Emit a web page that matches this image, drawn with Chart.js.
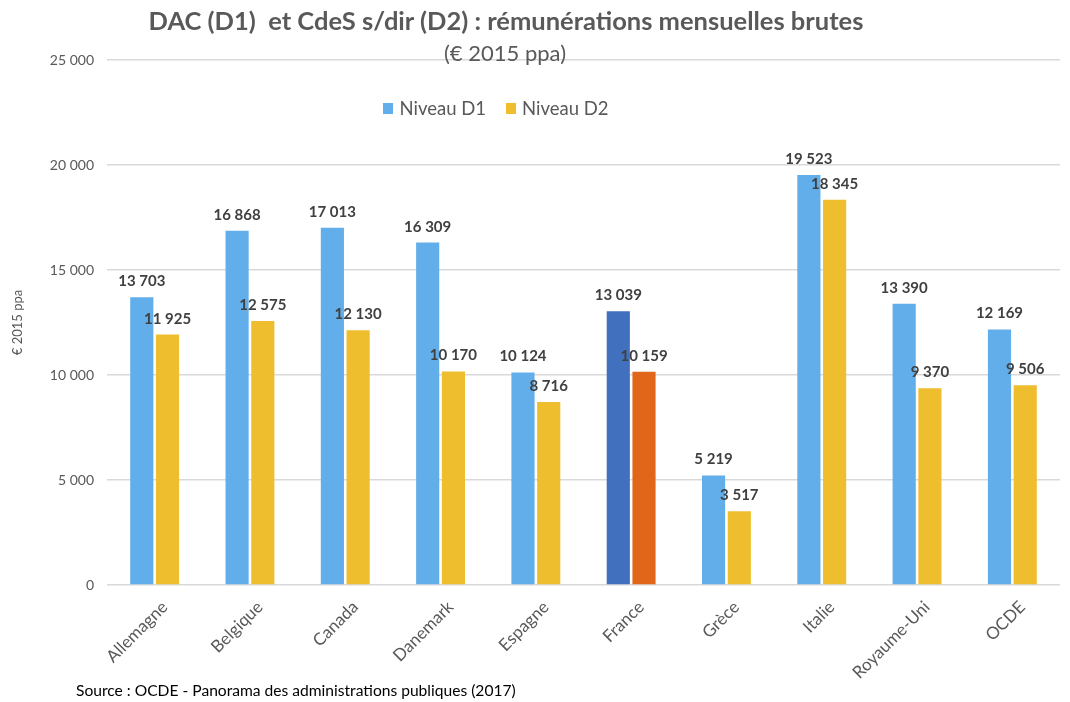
<!DOCTYPE html>
<html lang="fr">
<head>
<meta charset="UTF-8">
<title>DAC (D1) et CdeS s/dir (D2) : rémunérations mensuelles brutes</title>
<script src="https://cdn.jsdelivr.net/npm/chart.js"></script>
<style>
    body { margin: 0; background: #fff; font-family: Lato, sans-serif; }
    #wrap { position: relative; width: 1070px; height: 702px; overflow: hidden; }
    #chart { position: absolute; left: 0; top: 0; }
    .title { position: absolute; top: 5px; left: 0; width: 1012px; text-align: center;
             font-weight: bold; font-size: 25.5px; color: #595959; white-space: pre; }
    .subtitle { position: absolute; top: 39px; left: 0; width: 1010px; text-align: center;
                font-size: 22px; color: #595959; }
    .legend { position: absolute; top: 97px; left: 0; width: 992px; text-align: center;
              font-size: 18.5px; color: #595959; }
    .legend span.box { display: inline-block; width: 10px; height: 11px; margin-right: 6px; vertical-align: 1px; }
    .legend span.item { margin: 0 10px; }
    .source { position: absolute; left: 76px; top: 681px; font-size: 15.6px; color: #000; }
</style>
</head>
<body>
<div id="wrap">
    <canvas id="chart" width="1070" height="702"></canvas>
    <div class="title">DAC (D1)  et CdeS s/dir (D2) : rémunérations mensuelles brutes</div>
    <div class="subtitle">(€ 2015 ppa)</div>
    <div class="legend" id="legend"></div>
    <div class="source">Source : OCDE - Panorama des administrations publiques (2017)</div>
</div>
<script>
    // data
    const pays = ['Allemagne', 'Belgique', 'Canada', 'Danemark', 'Espagne', 'France', 'Grèce', 'Italie', 'Royaume-Uni', 'OCDE'];
    const niveauD1 = [13703, 16868, 17013, 16309, 10124, 13039, 5219, 19523, 13390, 12169];
    const niveauD2 = [11925, 12575, 12130, 10170, 8716, 10159, 3517, 18345, 9370, 9506];
    const yTicks = [0, 5000, 10000, 15000, 20000, 25000];

    const blue = '#62AEEA', yellow = '#EEBE2E';
    const franceBlue = '#4170BE', franceOrange = '#E2661A';

    const fmt = v => String(v).replace(/\B(?=(\d{3})+(?!\d))/g, ' ');

    // legend as html
    const legend = document.getElementById('legend');
    legend.innerHTML =
        '<span class="item"><span class="box" style="background:' + blue + '"></span>Niveau D1</span>' +
        '<span class="item"><span class="box" style="background:' + yellow + '"></span>Niveau D2</span>';

    const barLabels = {
        id: 'barLabels',
        afterDatasetsDraw(chart) {
            const ctx = chart.ctx;
            ctx.save();
            ctx.font = 'bold 15px Lato, sans-serif';
            ctx.fillStyle = '#404040';
            ctx.textAlign = 'center';
            ctx.textBaseline = 'alphabetic';
            chart.data.datasets.forEach((ds, i) => {
                chart.getDatasetMeta(i).data.forEach((bar, j) => {
                    ctx.fillText(fmt(ds.data[j]), bar.x, bar.y - 11);
                });
            });
            ctx.restore();
        }
    };

    new Chart(document.getElementById('chart'), {
        type: 'bar',
        data: {
            labels: pays,
            datasets: [
                {
                    label: 'Niveau D1',
                    data: niveauD1,
                    backgroundColor: pays.map(p => p === 'France' ? franceBlue : blue),
                    categoryPercentage: 0.54,
                    barPercentage: 0.9
                },
                {
                    label: 'Niveau D2',
                    data: niveauD2,
                    backgroundColor: pays.map(p => p === 'France' ? franceOrange : yellow),
                    categoryPercentage: 0.54,
                    barPercentage: 0.9
                }
            ]
        },
        options: {
            responsive: false,
            animation: false,
            layout: { padding: { left: 0, right: 10, top: 60, bottom: 0 } },
            plugins: {
                legend: { display: false },
                tooltip: { enabled: false }
            },
            scales: {
                x: {
                    grid: { display: false, drawTicks: false },
                    border: { display: false },
                    ticks: {
                        color: '#595959',
                        font: { family: 'Lato', size: 17 },
                        minRotation: 45,
                        maxRotation: 45,
                        padding: 12,
                        labelOffset: 10
                    },
                    afterFit: s => { s.height = 117; }
                },
                y: {
                    min: 0,
                    max: 25000,
                    afterBuildTicks: s => { s.ticks = yTicks.map(v => ({ value: v })); },
                    grid: { color: '#D9D9D9', lineWidth: 1.5, drawTicks: false },
                    border: { display: false },
                    ticks: {
                        color: '#595959',
                        font: { family: 'Lato', size: 14 },
                        padding: 13,
                        callback: v => fmt(v)
                    },
                    title: {
                        display: true,
                        text: '€ 2015 ppa',
                        color: '#595959',
                        font: { family: 'Lato', size: 13 },
                        padding: { top: 10, bottom: 0 }
                    },
                    afterFit: s => { s.width = 107; }
                }
            }
        },
        plugins: [barLabels]
    });
</script>
</body>
</html>
